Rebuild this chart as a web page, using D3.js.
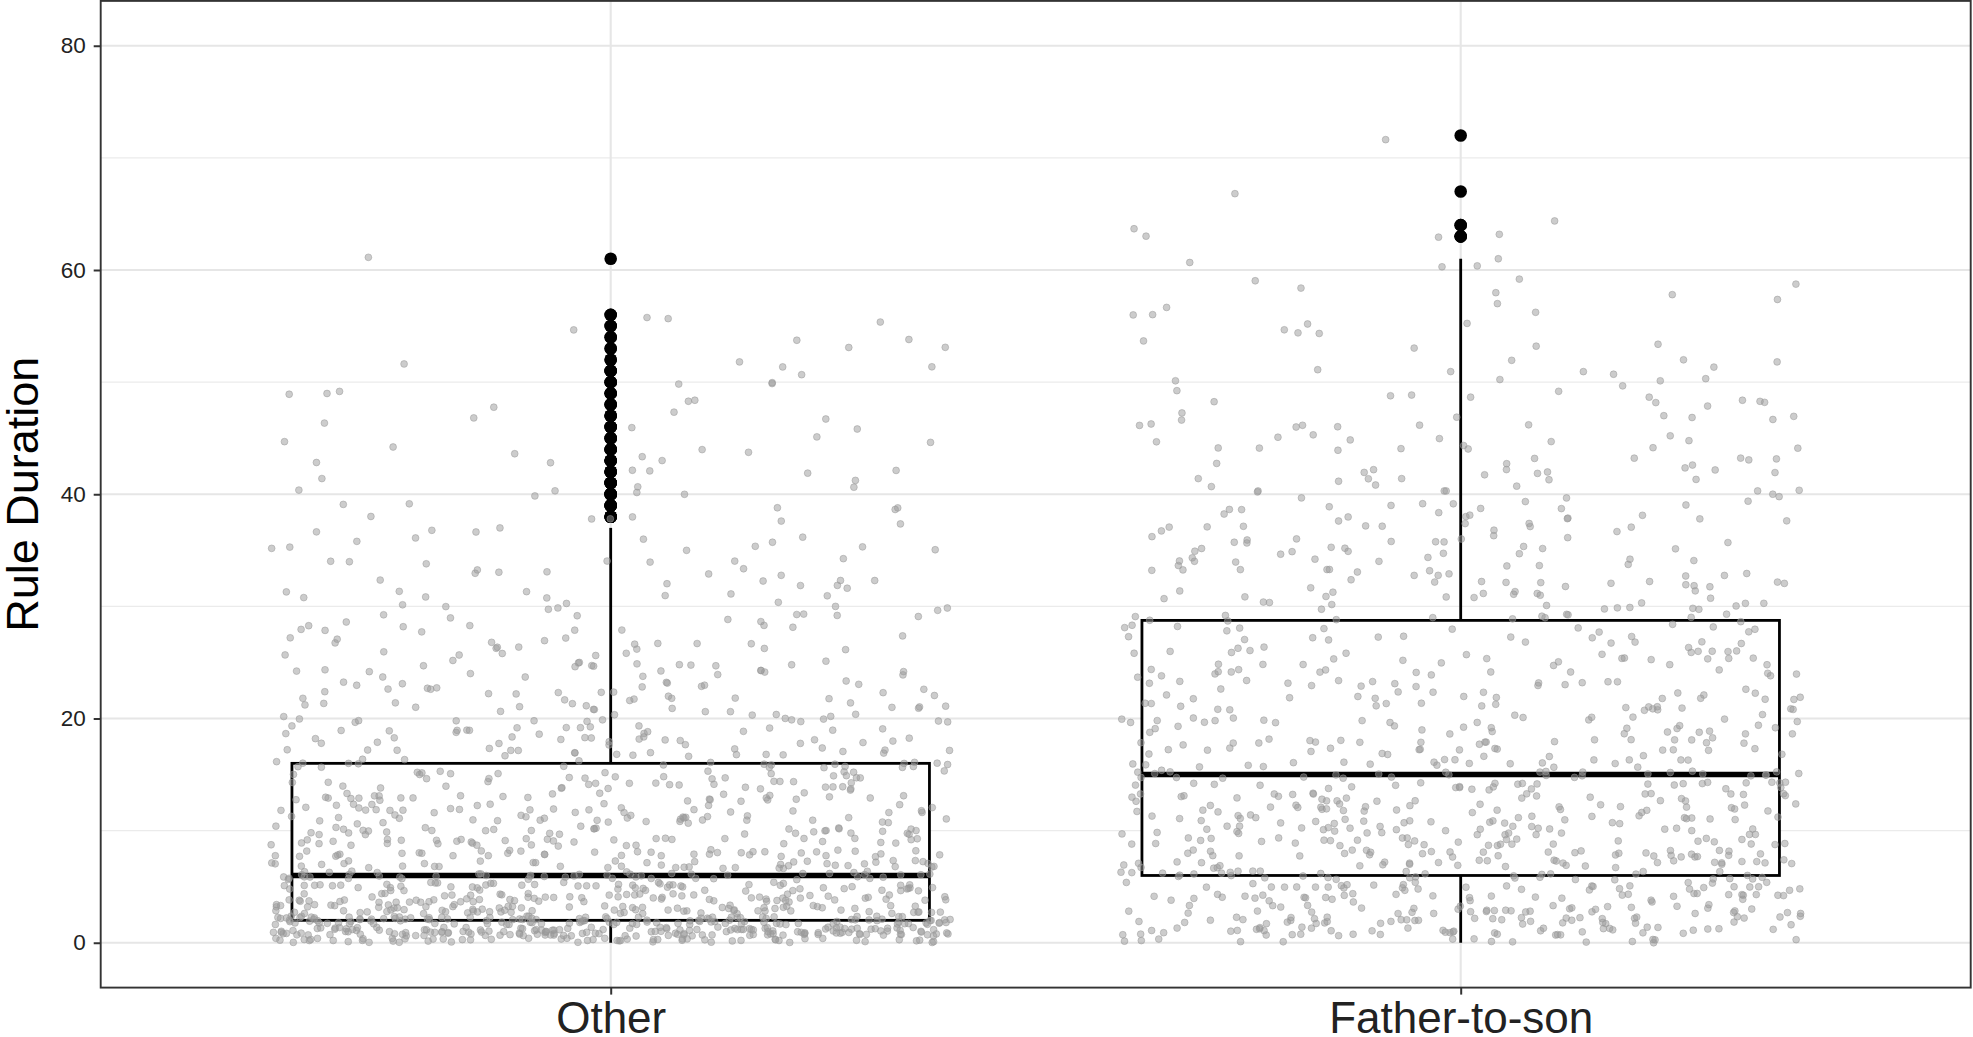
<!DOCTYPE html>
<html>
<head>
  <meta charset="utf-8">
  <title>Rule Duration</title>
  <script src="https://d3js.org/d3.v7.min.js"></script>
  <style>
    body { margin: 0; background: #fff; }
    svg { display: block; font-family: "Liberation Sans", Arial, sans-serif; }
    .tick text { fill: #222; }
  </style>
</head>
<body>
  <script>
    // Groups on the x axis
    const categories = ["Other", "Father-to-son"];

    // Number of rulers per duration (years); index = duration
    const otherCounts = [
      110, 160, 125, 82, 70, 62, 50, 44, 40, 38,
      35, 33, 31, 29, 27, 25, 24, 22, 21, 20,
      19, 18, 16, 15, 14, 13, 12, 11, 10, 10,
      9, 9, 8, 7, 7, 6, 5, 5, 5, 5,
      5, 4, 4, 4, 4, 3, 3, 3, 3, 3,
      3, 3, 2, 2, 2, 2, 2, 0, 0, 0,
      0, 1
    ];
    const fatherCounts = [
      32, 46, 42, 39, 37, 35, 36, 34, 34, 33,
      33, 31, 31, 30, 30, 29, 22, 21, 21, 20,
      20, 19, 18, 18, 17, 17, 15, 14, 13, 14,
      14, 14, 14, 13, 13, 12, 12, 12, 11, 11,
      10, 9, 9, 8, 8, 8, 7, 7, 6, 6,
      5, 5, 3, 3, 3, 3, 3, 3, 3, 3,
      2, 2, 0, 3, 2, 0, 0, 1, 0, 0,
      0, 0, 1
    ];
    const yTicks = [0, 20, 40, 60, 80];
    const yMinorTicks = [10, 30, 50, 70];
    const yLimits = [0, 80];

    const W = 1973, H = 1037;
    const panel = { left: 100.7, right: 1970.7, top: 0.9, bottom: 987.6 };

    const svg = d3.select("body").append("svg")
      .attr("width", W)
      .attr("height", H);

    svg.append("rect").attr("width", W).attr("height", H).attr("fill", "#fff");

    // scales: ggplot style expansion (0.6 units on discrete, 5% on continuous)
    const x = d3.scalePoint()
      .domain(categories)
      .range([panel.left, panel.right])
      .padding(0.6);
    const step = x.step();

    const span = yLimits[1] - yLimits[0];
    const y = d3.scaleLinear()
      .domain([yLimits[0] - span * 0.05, yLimits[1] + span * 0.05])
      .range([panel.bottom, panel.top]);

    // expand counts to values
    const expand = counts => counts.flatMap((c, v) => Array(c).fill(v));
    const groups = [
      { name: "Other", values: expand(otherCounts) },
      { name: "Father-to-son", values: expand(fatherCounts) }
    ];

    // box statistics (R type 7 quantiles)
    groups.forEach(g => {
      const s = g.values.slice().sort(d3.ascending);
      g.q1 = d3.quantileSorted(s, 0.25);
      g.med = d3.quantileSorted(s, 0.5);
      g.q3 = d3.quantileSorted(s, 0.75);
      const iqr = g.q3 - g.q1;
      const lo = g.q1 - 1.5 * iqr, hi = g.q3 + 1.5 * iqr;
      const inside = s.filter(v => v >= lo && v <= hi);
      g.wLo = d3.min(inside);
      g.wHi = d3.max(inside);
      g.outliers = s.filter(v => v < lo || v > hi);
    });

    // grid
    const grid = svg.append("g");
    grid.selectAll(".minor").data(yMinorTicks).enter().append("line")
      .attr("x1", panel.left).attr("x2", panel.right)
      .attr("y1", d => y(d)).attr("y2", d => y(d))
      .attr("stroke", "#ebebeb").attr("stroke-width", 1.1);
    grid.selectAll(".major").data(yTicks).enter().append("line")
      .attr("x1", panel.left).attr("x2", panel.right)
      .attr("y1", d => y(d)).attr("y2", d => y(d))
      .attr("stroke", "#e6e6e6").attr("stroke-width", 2.1);
    grid.selectAll(".vmajor").data(categories).enter().append("line")
      .attr("x1", d => x(d)).attr("x2", d => x(d))
      .attr("y1", panel.top).attr("y2", panel.bottom)
      .attr("stroke", "#e6e6e6").attr("stroke-width", 2.1);

    // boxplots
    const boxW = step * 0.75;
    const bp = svg.append("g").selectAll("g").data(groups).enter().append("g");

    bp.selectAll("circle").data(g => g.outliers.map(v => ({ g: g.name, v }))).enter()
      .append("circle")
      .attr("cx", d => x(d.g))
      .attr("cy", d => y(d.v))
      .attr("r", 6.3)
      .attr("fill", "#000");

    bp.append("line")
      .attr("x1", g => x(g.name)).attr("x2", g => x(g.name))
      .attr("y1", g => y(g.q3)).attr("y2", g => y(g.wHi))
      .attr("stroke", "#000").attr("stroke-width", 2.8);
    bp.append("line")
      .attr("x1", g => x(g.name)).attr("x2", g => x(g.name))
      .attr("y1", g => y(g.q1)).attr("y2", g => y(g.wLo))
      .attr("stroke", "#000").attr("stroke-width", 2.8);
    bp.append("rect")
      .attr("x", g => x(g.name) - boxW / 2)
      .attr("width", boxW)
      .attr("y", g => y(g.q3))
      .attr("height", g => y(g.q1) - y(g.q3))
      .attr("fill", "#fff")
      .attr("stroke", "#000").attr("stroke-width", 2.8);
    bp.append("line")
      .attr("x1", g => x(g.name) - boxW / 2).attr("x2", g => x(g.name) + boxW / 2)
      .attr("y1", g => y(g.med)).attr("y2", g => y(g.med))
      .attr("stroke", "#000").attr("stroke-width", 5.6);

    // jittered points (seeded jitter, width 0.4, height 0.4 like geom_jitter)
    const rnd = d3.randomLcg(7);
    const pts = [];
    groups.forEach(g => {
      g.values.forEach(v => {
        const jx = (rnd() * 2 - 1) * 0.4 * step;
        const jy = (rnd() * 2 - 1) * 0.4;
        const yy = v + jy;
        if (yy >= yLimits[0] && yy <= yLimits[1]) pts.push({ g: g.name, jx, yy });
      });
    });
    svg.append("g").selectAll("circle").data(pts).enter().append("circle")
      .attr("cx", d => x(d.g) + d.jx)
      .attr("cy", d => y(d.yy))
      .attr("r", 3.4)
      .attr("fill", "#999").attr("fill-opacity", 0.5)
      .attr("stroke", "#999").attr("stroke-opacity", 0.5).attr("stroke-width", 1);

    // panel border
    svg.append("rect")
      .attr("x", panel.left).attr("y", panel.top)
      .attr("width", panel.right - panel.left)
      .attr("height", panel.bottom - panel.top)
      .attr("fill", "none")
      .attr("stroke", "#333").attr("stroke-width", 1.9);

    // axes
    const yAxis = svg.append("g")
      .attr("transform", `translate(${panel.left},0)`)
      .call(d3.axisLeft(y).tickValues(yTicks).tickSize(7).tickPadding(8));
    yAxis.select(".domain").remove();
    yAxis.selectAll(".tick line").attr("stroke", "#333").attr("stroke-width", 2);
    yAxis.selectAll(".tick text").style("font-size", "22.5px");

    const xAxis = svg.append("g")
      .attr("transform", `translate(0,${panel.bottom})`)
      .call(d3.axisBottom(x).tickSize(7).tickPadding(7));
    xAxis.select(".domain").remove();
    xAxis.selectAll(".tick line").attr("stroke", "#333").attr("stroke-width", 2);
    xAxis.selectAll(".tick text").style("font-size", "44px");

    svg.append("text")
      .attr("transform", `translate(38,${(panel.top + panel.bottom) / 2}) rotate(-90)`)
      .attr("text-anchor", "middle")
      .style("font-size", "45px")
      .attr("fill", "#000")
      .text("Rule Duration");
  </script>
</body>
</html>
